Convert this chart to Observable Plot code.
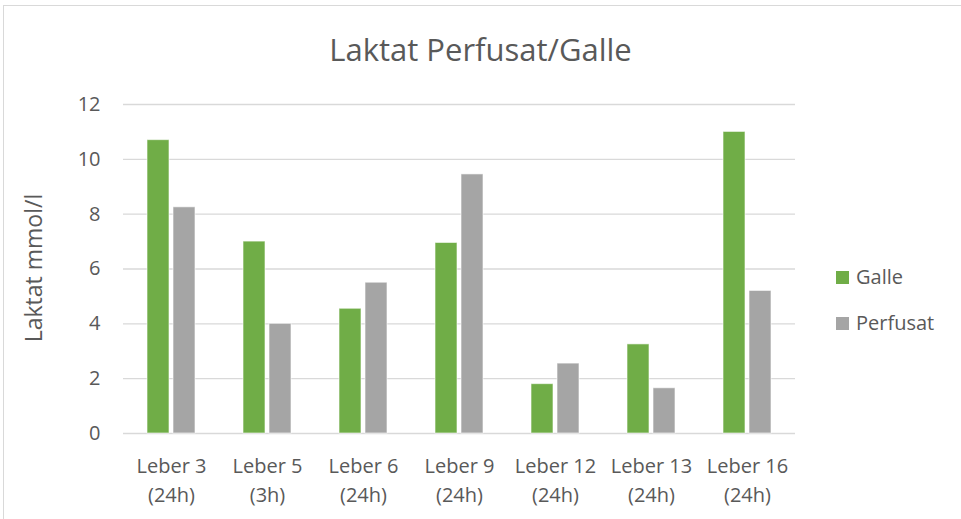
<!DOCTYPE html>
<html>
<head>
<meta charset="utf-8">
<script src="https://cdn.jsdelivr.net/npm/d3@7"></script>
<script src="https://cdn.jsdelivr.net/npm/@observablehq/plot@0.6"></script>
<style>
  html, body { margin: 0; padding: 0; background: #fff; overflow: hidden; }
  #wrap { position: relative; width: 961px; height: 519px; font-family: "Open Sans", sans-serif; color: #595959; }
  #border { position: absolute; left: 3px; top: 5px; width: 1200px; height: 1200px; border: 1.5px solid #d9d9d9; box-sizing: border-box; }
  #title { position: absolute; left: 0; width: 961px; top: 29px; text-align: center; font-size: 31px; line-height: 40px; }
  #ylabel { position: absolute; left: 33px; top: 268px; transform: translate(-50%, -50%) rotate(-90deg); white-space: nowrap; font-size: 23px; line-height: 26px; }
  .leg { position: absolute; left: 836px; font-size: 20px; line-height: 24px; display: flex; align-items: center; }
  .leg span.sw { display: inline-block; width: 13px; height: 13px; margin-right: 7px; }
  #chart { position: absolute; left: 0; top: 0; }
</style>
</head>
<body>
<div id="wrap">
  <div id="border"></div>
  <div id="chart"></div>
  <div id="title">Laktat Perfusat/Galle</div>
  <div id="ylabel">Laktat mmol/l</div>
  <div id="legend"></div>
</div>
<script>
// Data
const categories = ["Leber 3", "Leber 5", "Leber 6", "Leber 9", "Leber 12", "Leber 13", "Leber 16"];
const durations = ["24h", "3h", "24h", "24h", "24h", "24h", "24h"];
const series = ["Galle", "Perfusat"];
const galle = [10.7, 7.0, 4.55, 6.95, 1.8, 3.25, 11.0];
const perfusat = [8.25, 4.0, 5.5, 9.45, 2.55, 1.65, 5.2];
const seriesColors = ["#70AD47", "#A5A5A5"];
const yTicks = [0, 2, 4, 6, 8, 10, 12];

const labels = categories.map((c, i) => `${c}\n(${durations[i]})`);
const values = [galle, perfusat];
const data = [];
categories.forEach((c, i) => {
  series.forEach((s, j) => data.push({cat: labels[i], series: s, value: values[j][i]}));
});

const chart = Plot.plot({
  width: 961,
  height: 519,
  marginLeft: 123,
  marginRight: 166,
  marginTop: 104,
  marginBottom: 86,
  style: {fontFamily: "Open Sans, sans-serif", fontSize: "20px", color: "#595959", background: "transparent", overflow: "visible"},
  fx: {domain: labels, paddingInner: 0, paddingOuter: 0, label: null},
  x: {domain: series, paddingInner: 0.17, paddingOuter: 0.92, axis: null},
  y: {domain: [0, 12]},
  color: {domain: series, range: seriesColors},
  marks: [
    Plot.ruleY(yTicks, {stroke: "#d9d9d9", strokeWidth: 1.3}),
    Plot.barY(data, {fx: "cat", x: "series", y: "value", fill: "series", stroke: "white", strokeOpacity: 0.6, strokeWidth: 1}),
    Plot.axisY({ticks: yTicks, tickSize: 0, tickPadding: 23, label: null, fontSize: 20}),
    Plot.axisFx({anchor: "bottom", tickSize: 0, tickPadding: 19, label: null, fontSize: 20, lineHeight: 1.45})
  ]
});
document.getElementById("chart").appendChild(chart);

// Legend
const legend = document.getElementById("legend");
const legTops = [265, 311];
series.forEach((s, i) => {
  const d = document.createElement("div");
  d.className = "leg";
  d.style.top = legTops[i] + "px";
  d.innerHTML = `<span class="sw" style="background:${seriesColors[i]}"></span><span>${s}</span>`;
  legend.appendChild(d);
});
</script>
</body>
</html>
